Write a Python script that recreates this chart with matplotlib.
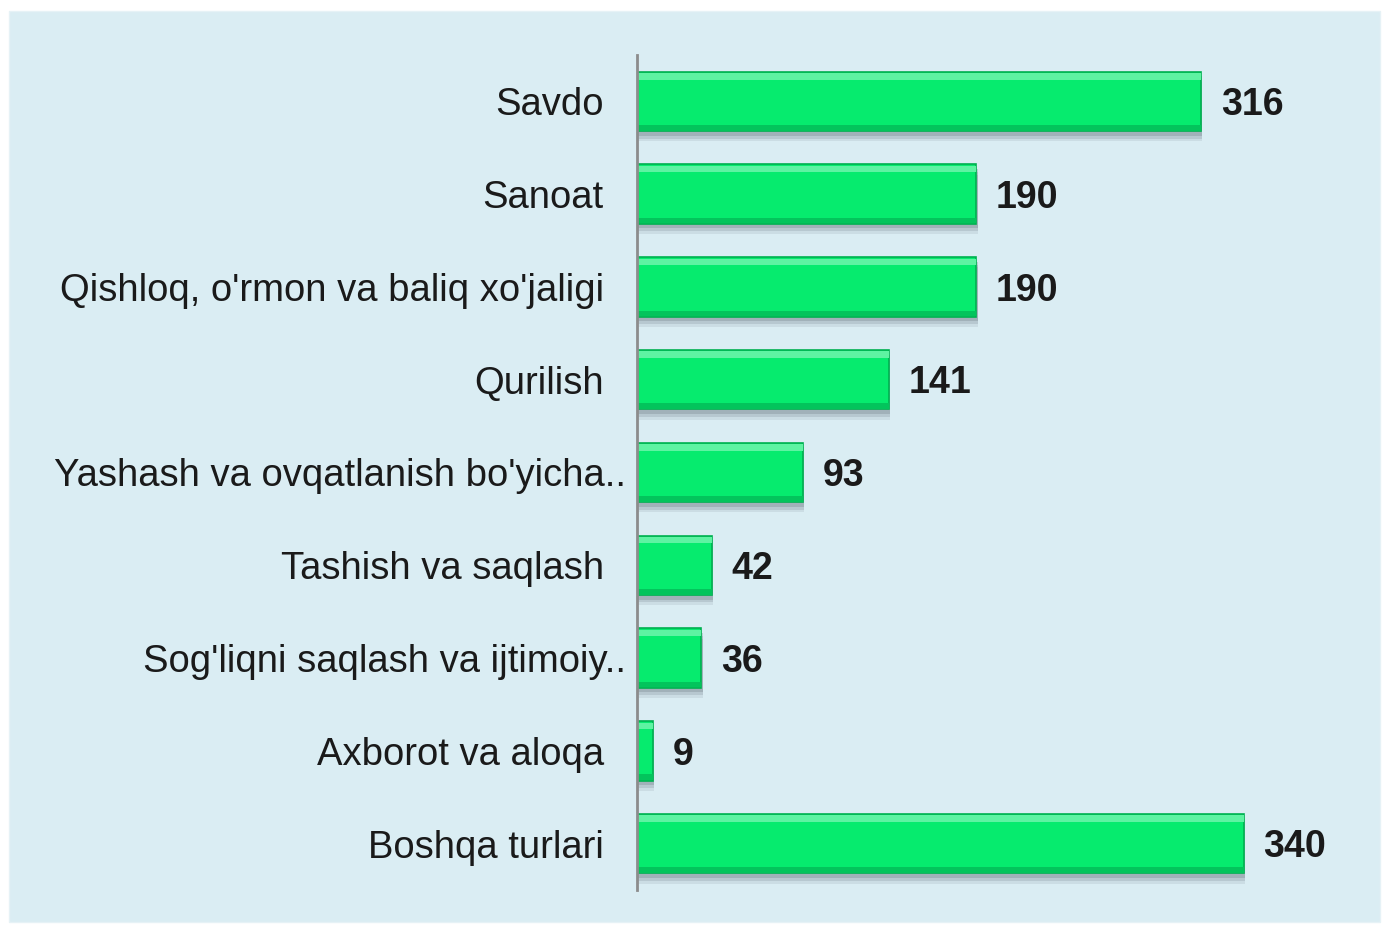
import matplotlib.pyplot as plt
import matplotlib.transforms as mtransforms
from matplotlib.patches import Rectangle

categories = ["Savdo", "Sanoat", "Qishloq, o'rmon va baliq xo'jaligi", "Qurilish",
              "Yashash va ovqatlanish bo'yicha..", "Tashish va saqlash",
              "Sog'liqni saqlash va ijtimoiy..", "Axborot va aloqa", "Boshqa turlari"]
values = [316, 190, 190, 141, 93, 42, 36, 9, 340]

plt.rcParams['font.family'] = ['Liberation Sans', 'DejaVu Sans']

fig = plt.figure(figsize=(13.83, 9.26), dpi=100)
fig.patch.set_facecolor("white")
fig.patches.append(Rectangle((9 / 1383, 4 / 926), 1371 / 1383, 911 / 926,
                             transform=fig.transFigure, facecolor="#daedf3",
                             edgecolor="#e6f2f6", linewidth=1, zorder=-1))

ax = fig.add_axes([637 / 1383, 36 / 926, 714 / 1383, 835 / 926])
ax.set_facecolor("none")
ax.set_zorder(2)

y = list(range(len(categories)))
h = 0.64

# soft shadow under each bar
for k, a in enumerate([0.10, 0.15, 0.20]):
    off = 0.11 - k * 0.03
    ax.barh([i + off for i in y], [v + 0.8 for v in values], height=h,
            color="#4a5560", alpha=a, linewidth=0, zorder=1)

ax.barh(y, values, height=h, color="#06eb6e", edgecolor="#00b050",
        linewidth=1.2, zorder=2)
# lighter top strip
ax.barh([i - h / 2 + 0.05 for i in y], values, height=0.07, color="#5ef3a2",
        linewidth=0, zorder=3)
# darker bottom strip
ax.barh([i + h / 2 - 0.035 for i in y], values, height=0.06, color="#03c45c",
        linewidth=0, zorder=3)

for i, v in enumerate(values):
    ax.text(v + 11, i + 0.04, str(v), va="center", ha="left", fontsize=27,
            fontweight="bold", color="#1a1a1a")

ax.set_xlim(0, 400)
ax.set_ylim(len(categories) - 0.5, -0.5)
ax.set_yticks(y)
ax.set_yticklabels(categories, fontsize=27.5, color="#1a1a1a")
ax.tick_params(axis="y", length=0, pad=24)
ax.set_xticks([])

# truncated labels run a bit closer to the axis, as in the original
shift = mtransforms.ScaledTranslation(22 / 100, 0, fig.dpi_scale_trans)
for lab in ax.get_yticklabels():
    if lab.get_text().endswith(".."):
        lab.set_transform(lab.get_transform() + shift)

for s in ["top", "right", "bottom"]:
    ax.spines[s].set_visible(False)
ax.spines["left"].set_color("#8c8c8c")
ax.spines["left"].set_linewidth(2)
ax.spines["left"].set_zorder(5)

fig.savefig("out.png", dpi=100)
